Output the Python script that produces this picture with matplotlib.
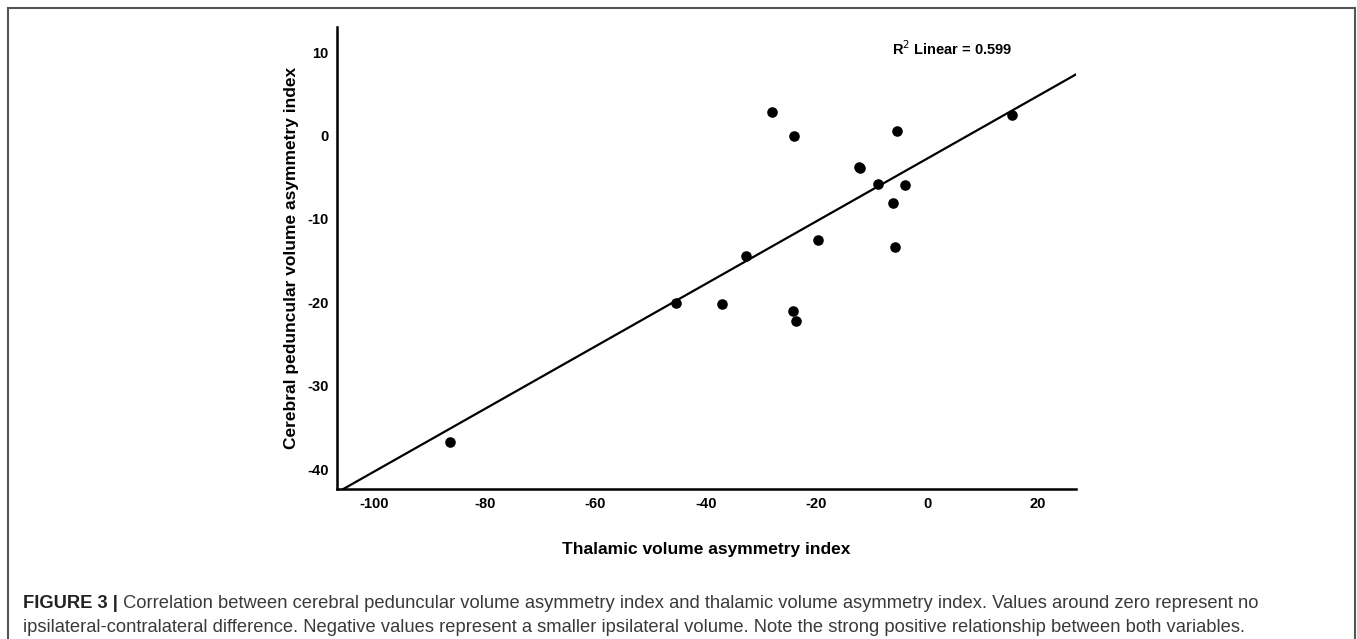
import matplotlib
matplotlib.use('Agg')
import matplotlib.pyplot as plt
from matplotlib.patches import Rectangle
import numpy as np

# valeurs
thalamic = [-86.2, -45.4, -37.0, -32.7, -28.1, -24.3, -24.1, -23.8, -19.8,
            -12.1, -12.4, -8.9, -6.2, -5.8, -5.4, -4.0, 15.4]
peduncular = [-36.8, -20.1, -20.25, -14.5, 2.8, -21.0, -0.1, -22.2, -12.5,
              -3.9, -3.8, -5.8, -8.1, -13.4, 0.5, -6.0, 2.5]
x_ticks = [-100, -80, -60, -40, -20, 0, 20]
y_ticks = [-40, -30, -20, -10, 0, 10]
r2_label = 0.599

x = np.array(thalamic)
y = np.array(peduncular)

plt.rcParams['font.family'] = ['Liberation Sans', 'DejaVu Sans']

fig = plt.figure(figsize=(13.57, 6.39), dpi=100)
ax = fig.add_axes([0.2483, 0.2347, 0.5446, 0.7230])

xlim = (-106.7, 26.9)
ylim = (-42.4, 13.0)

# droite de regression
slope, intercept = np.polyfit(x, y, 1)
xs = np.array(xlim)
ax.plot(xs, slope * xs + intercept, color='black', lw=1.6, zorder=2)

ax.scatter(x, y, s=58, color='black', zorder=3, linewidths=0)

ax.set_xlim(*xlim)
ax.set_ylim(*ylim)
ax.set_xticks(x_ticks)
ax.set_yticks(y_ticks)
ax.set_xticklabels([str(v) for v in x_ticks], fontweight='bold', fontsize=10.5)
ax.set_yticklabels([str(v) for v in y_ticks], fontweight='bold', fontsize=10.5)
ax.tick_params(length=0, pad=6)

for side in ['top', 'right']:
    ax.spines[side].set_visible(False)
for side in ['left', 'bottom']:
    ax.spines[side].set_linewidth(1.8)

ax.set_xlabel('Thalamic volume asymmetry index', fontsize=12.5, fontweight='bold', labelpad=22)
ax.set_ylabel('Cerebral peduncular volume asymmetry index', fontsize=12.5, fontweight='bold', labelpad=6)

ax.text(0.832, 0.954, r'R$^2$ Linear = %.3f' % r2_label, transform=ax.transAxes,
        ha='center', va='center', fontsize=10.5, fontweight='bold')

# cadre gris
fig.patches.append(Rectangle((7.5 / 1357, -0.05), (1355 - 7.5) / 1357, 1.05 - 7.5 / 639,
                             transform=fig.transFigure, fill=False, edgecolor='#555555', lw=1.5))

# legende de la figure
cap_color = '#3a3a3a'
cap_size = 13.2
t1 = fig.text(23 / 1357, 1 - 603 / 639, 'FIGURE 3 |', fontsize=cap_size, fontweight='bold',
              color='#222222', va='center', ha='left')
fig.canvas.draw()
ax.annotate(' Correlation between cerebral peduncular volume asymmetry index and thalamic volume asymmetry index. '
            'Values around zero represent no',
            xy=(1, 0.5), xycoords=t1, va='center', ha='left', fontsize=cap_size, color=cap_color,
            annotation_clip=False)
fig.text(23 / 1357, 1 - 627 / 639,
         'ipsilateral-contralateral difference. Negative values represent a smaller ipsilateral volume. '
         'Note the strong positive relationship between both variables.',
         fontsize=cap_size, color=cap_color, va='center', ha='left')

fig.savefig('out.png', dpi=100)
